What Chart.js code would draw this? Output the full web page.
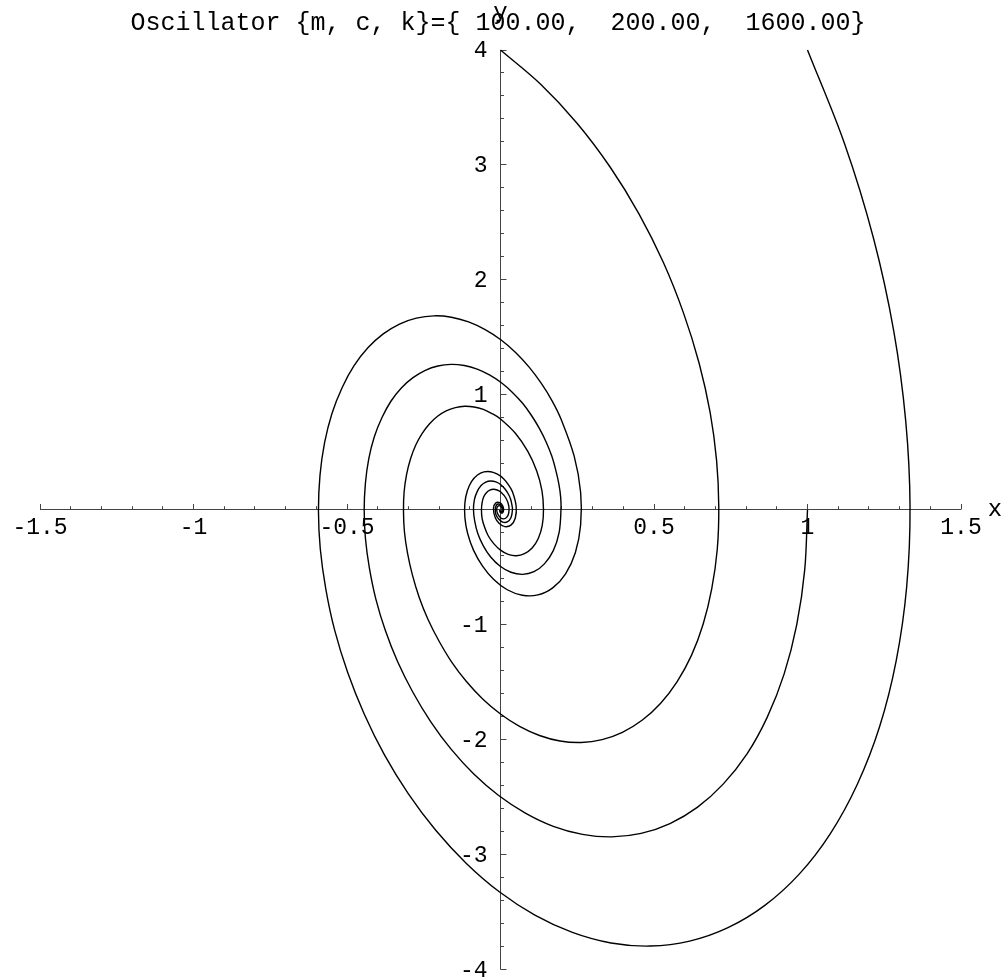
<!DOCTYPE html>
<html>
<head>
<meta charset="utf-8">
<script src="https://cdn.jsdelivr.net/npm/chart.js@4/dist/chart.umd.min.js"></script>
<style>
  html, body { margin: 0; padding: 0; background: #fff; }
  #wrap { width: 1006px; height: 977px; }
</style>
</head>
<body>
<div id="wrap"><canvas id="phaseChart"></canvas></div>
<script>
const title = 'Oscillator {m, c, k}={ 100.00,  200.00,  1600.00}';

// start x = 0, v = 4
const xA = [0, 0.130, 0.250, 0.357, 0.451, 0.531, 0.596, 0.647, 0.683, 0.704, 0.711, 0.706, 0.688, 0.660, 0.622, 0.575, 0.521, 0.461, 0.397, 0.331, 0.263, 0.194, 0.127, 0.062,
  0, -0.058, -0.111, -0.159, -0.200, -0.236, -0.265, -0.287, -0.303, -0.313, -0.316, -0.314, -0.306, -0.293, -0.276, -0.255, -0.231, -0.205, -0.177, -0.147, -0.117, -0.086, -0.056, -0.028,
  0, 0.049, 0.089, 0.118, 0.135, 0.140, 0.136, 0.123, 0.103, 0.078, 0.052, 0.025,
  0, -0.022, -0.040, -0.052, -0.060, -0.062, -0.060, -0.055, -0.046, -0.035, -0.023, -0.011,
  0, 0.018, 0.027, 0.027, 0.020, 0.010,
  0, -0.010, -0.012, -0.007,
  0, 0.005, 0.005, 0.003, 0];
const vA = [4, 3.704, 3.361, 2.982, 2.575, 2.149, 1.713, 1.275, 0.844, 0.425, 0.027, -0.346, -0.688, -0.996, -1.267, -1.497, -1.685, -1.832, -1.937, -2.000, -2.025, -2.012, -1.964, -1.885,
  -1.777, -1.646, -1.494, -1.325, -1.144, -0.955, -0.761, -0.567, -0.375, -0.189, -0.012, 0.154, 0.306, 0.443, 0.563, 0.665, 0.749, 0.814, 0.861, 0.889, 0.900, 0.894, 0.873, 0.837,
  0.790, 0.664, 0.508, 0.338, 0.167, 0.005, -0.136, -0.250, -0.333, -0.382, -0.400, -0.388,
  -0.351, -0.295, -0.226, -0.150, -0.074, -0.002, 0.060, 0.111, 0.148, 0.170, 0.178, 0.172,
  0.156, 0.100, 0.033, -0.027, -0.066, -0.079,
  -0.069, -0.030, 0.012, 0.034,
  0.031, 0.013, -0.005, -0.015, -0.014];

// start x = 1, v = 4
const xB = [1, 1.121, 1.215, 1.281, 1.320, 1.334, 1.323, 1.289, 1.235, 1.162, 1.074, 0.973, 0.861, 0.741, 0.616, 0.488, 0.360, 0.234, 0.112, -0.004, -0.112, -0.211, -0.300, -0.378,
  -0.444, -0.498, -0.540, -0.569, -0.587, -0.593, -0.588, -0.573, -0.549, -0.516, -0.477, -0.432, -0.382, -0.329, -0.274, -0.217, -0.160, -0.104, -0.050, 0.002, 0.050, 0.094, 0.133, 0.168,
  0.197, 0.240, 0.261, 0.261, 0.244, 0.212, 0.170, 0.122, 0.071, 0.022, -0.022, -0.059,
  -0.088, -0.107, -0.116, -0.116, -0.108, -0.094, -0.075, -0.054, -0.032, -0.010, 0.010, 0.026,
  0.039, 0.051, 0.048, 0.034, 0.014, -0.004,
  -0.017, -0.023, -0.015, -0.002,
  0.008, 0.010, 0.007, 0.001, -0.003];
const vB = [4, 3.182, 2.362, 1.554, 0.771, 0.025, -0.672, -1.312, -1.886, -2.390, -2.819, -3.170, -3.442, -3.636, -3.753, -3.796, -3.769, -3.677, -3.527, -3.324, -3.075, -2.789, -2.472, -2.133,
  -1.777, -1.414, -1.050, -0.690, -0.342, -0.011, 0.299, 0.583, 0.838, 1.062, 1.253, 1.409, 1.530, 1.616, 1.667, 1.687, 1.675, 1.634, 1.567, 1.477, 1.367, 1.239, 1.099, 0.948,
  0.790, 0.466, 0.152, -0.133, -0.372, -0.557, -0.680, -0.741, -0.744, -0.696, -0.607, -0.488,
  -0.351, -0.207, -0.068, 0.059, 0.165, 0.247, 0.302, 0.329, 0.331, 0.309, 0.270, 0.217,
  0.156, 0.030, -0.074, -0.134, -0.147, -0.120,
  -0.069, 0.012, 0.060, 0.061,
  0.031, -0.005, -0.026, -0.027, -0.014];

// start x = 1, v = 0
const xC = [1, 0.991, 0.965, 0.924, 0.869, 0.803, 0.726, 0.642, 0.552, 0.458, 0.362, 0.267, 0.172, 0.081, -0.006, -0.087, -0.161, -0.227, -0.285, -0.335, -0.375, -0.406, -0.427, -0.440,
  -0.444, -0.440, -0.429, -0.411, -0.386, -0.357, -0.323, -0.285, -0.245, -0.204, -0.161, -0.118, -0.076, -0.036, 0.003, 0.039, 0.072, 0.101, 0.127, 0.149, 0.167, 0.180, 0.190, 0.196,
  0.197, 0.191, 0.172, 0.143, 0.109, 0.072, 0.034, -0.001, -0.032, -0.056, -0.074, -0.084,
  -0.088, -0.085, -0.076, -0.064, -0.048, -0.032, -0.015, 0.001, 0.014, 0.025, 0.033, 0.037,
  0.039, 0.034, 0.022, 0.007, -0.006, -0.015,
  -0.017, -0.013, -0.003, 0.005,
  0.008, 0.006, 0.001, -0.002, -0.003];
const vC = [0, -0.521, -0.999, -1.428, -1.804, -2.124, -2.385, -2.587, -2.730, -2.816, -2.846, -2.824, -2.754, -2.639, -2.486, -2.299, -2.083, -1.845, -1.590, -1.323, -1.051, -0.777, -0.508, -0.248,
  0, 0.232, 0.444, 0.635, 0.802, 0.944, 1.060, 1.149, 1.213, 1.251, 1.265, 1.255, 1.224, 1.173, 1.105, 1.021, 0.926, 0.820, 0.706, 0.588, 0.467, 0.345, 0.226, 0.110,
  0, -0.197, -0.356, -0.471, -0.539, -0.562, -0.544, -0.491, -0.411, -0.314, -0.207, -0.100,
  0, 0.088, 0.158, 0.209, 0.240, 0.250, 0.242, 0.218, 0.183, 0.139, 0.092, 0.045,
  0, -0.070, -0.106, -0.107, -0.081, -0.041,
  0, 0.041, 0.048, 0.028,
  0, -0.018, -0.021, -0.012, 0];

const xTicks = [-1.5, -1, -0.5, 0.5, 1, 1.5];
const xTickLabels = ['-1.5', '-1', '-0.5', '0.5', '1', '1.5'];
const yTicks = [-4, -3, -2, -1, 1, 2, 3, 4];
const yTickLabels = ['-4', '-3', '-2', '-1', '1', '2', '3', '4'];

const mono = '"Liberation Mono", "Courier New", monospace';

function toPoints(xs, vs) {
  return xs.map((x, i) => ({ x: x, y: vs[i] }));
}

function trajectory(xs, vs) {
  return {
    data: toPoints(xs, vs),
    showLine: true,
    borderColor: '#000',
    borderWidth: 1.4,
    pointRadius: 0,
    tension: 0.35,
    fill: false,
    clip: false
  };
}

// axes crossing at the origin, ticks on the inner side
const axesPlugin = {
  id: 'originAxes',
  beforeDatasetsDraw(chart) {
    const { ctx, scales: { x, y } } = chart;
    const x0 = Math.floor(x.getPixelForValue(0)) + 0.5;
    const y0 = Math.floor(y.getPixelForValue(0)) + 0.5;
    ctx.save();
    ctx.strokeStyle = '#444';
    ctx.lineWidth = 1;
    ctx.beginPath();
    ctx.moveTo(x.getPixelForValue(-1.5), y0);
    ctx.lineTo(x.getPixelForValue(1.5), y0);
    ctx.moveTo(x0, y.getPixelForValue(-4));
    ctx.lineTo(x0, y.getPixelForValue(4));
    for (let i = -15; i <= 15; i++) {
      if (i === 0) continue;
      const px = Math.floor(x.getPixelForValue(i / 10)) + 0.5;
      const len = i % 5 === 0 ? 5.5 : 3.3;
      ctx.moveTo(px, y0);
      ctx.lineTo(px, y0 - len);
    }
    for (let i = -20; i <= 20; i++) {
      if (i === 0) continue;
      const py = Math.floor(y.getPixelForValue(i / 5)) + 0.5;
      const len = i % 5 === 0 ? 6 : 3.5;
      ctx.moveTo(x0, py);
      ctx.lineTo(x0 + len, py);
    }
    ctx.stroke();
    ctx.restore();
  },
  afterDraw(chart) {
    const { ctx, scales: { x, y } } = chart;
    const x0 = x.getPixelForValue(0);
    const y0 = y.getPixelForValue(0);
    ctx.save();
    ctx.fillStyle = '#000';

    ctx.font = '23px ' + mono;
    ctx.textAlign = 'center';
    ctx.textBaseline = 'top';
    xTicks.forEach((v, i) => ctx.fillText(xTickLabels[i], x.getPixelForValue(v), y0 + 7));

    ctx.textAlign = 'right';
    ctx.textBaseline = 'middle';
    yTicks.forEach((v, i) => ctx.fillText(yTickLabels[i], x0 - 13, y.getPixelForValue(v) + 1));

    ctx.font = '24px ' + mono;
    ctx.textAlign = 'center';
    ctx.textBaseline = 'middle';
    ctx.fillText('x', 995, y0);
    ctx.textBaseline = 'alphabetic';
    ctx.fillText('y', x0, 19);

    ctx.font = '25px ' + mono;
    ctx.fillText(title, 498, 30);
    ctx.restore();
  }
};

new Chart(document.getElementById('phaseChart'), {
  type: 'scatter',
  data: {
    datasets: [trajectory(xA, vA), trajectory(xB, vB), trajectory(xC, vC)]
  },
  options: {
    responsive: true,
    maintainAspectRatio: false,
    animation: false,
    layout: { padding: { left: 40, right: 45, top: 50, bottom: 7.5 } },
    scales: {
      x: { type: 'linear', min: -1.5, max: 1.5, display: false },
      y: { type: 'linear', min: -4, max: 4, display: false }
    },
    plugins: {
      legend: { display: false },
      tooltip: { enabled: false }
    }
  },
  plugins: [axesPlugin]
});
</script>
</body>
</html>
